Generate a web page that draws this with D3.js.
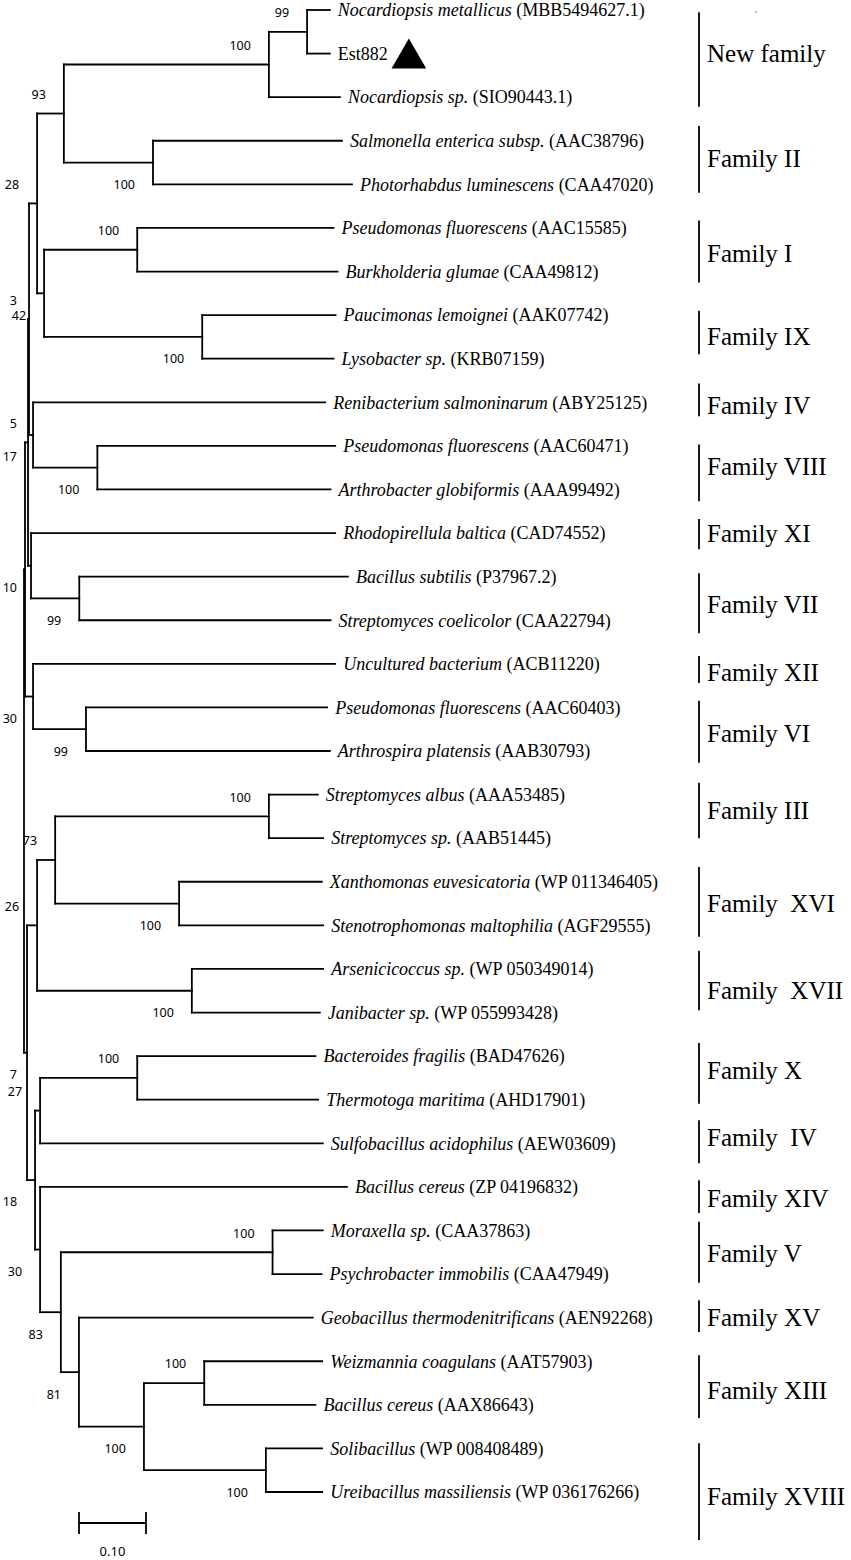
<!DOCTYPE html>
<html>
<head>
<meta charset="utf-8">
<script src="https://cdn.jsdelivr.net/npm/d3@7"></script>
<style>
body { margin: 0; background: #fff; }
</style>
</head>
<body>
<svg id="tree"></svg>
<script>
var w = 851, h = 1560;

// leaves, top to bottom
var tipSpecies = ["Nocardiopsis metallicus", "Est882", "Nocardiopsis sp.", "Salmonella enterica subsp.",
  "Photorhabdus luminescens", "Pseudomonas fluorescens", "Burkholderia glumae", "Paucimonas lemoignei",
  "Lysobacter sp.", "Renibacterium salmoninarum", "Pseudomonas fluorescens", "Arthrobacter globiformis",
  "Rhodopirellula baltica", "Bacillus subtilis", "Streptomyces coelicolor", "Uncultured bacterium",
  "Pseudomonas fluorescens", "Arthrospira platensis", "Streptomyces albus", "Streptomyces sp.",
  "Xanthomonas euvesicatoria", "Stenotrophomonas maltophilia", "Arsenicicoccus sp.", "Janibacter sp.",
  "Bacteroides fragilis", "Thermotoga maritima", "Sulfobacillus acidophilus", "Bacillus cereus",
  "Moraxella sp.", "Psychrobacter immobilis", "Geobacillus thermodenitrificans", "Weizmannia coagulans",
  "Bacillus cereus", "Solibacillus", "Ureibacillus massiliensis"];
var tipAccession = ["(MBB5494627.1)", "", "(SIO90443.1)", "(AAC38796)",
  "(CAA47020)", "(AAC15585)", "(CAA49812)", "(AAK07742)",
  "(KRB07159)", "(ABY25125)", "(AAC60471)", "(AAA99492)",
  "(CAD74552)", "(P37967.2)", "(CAA22794)", "(ACB11220)",
  "(AAC60403)", "(AAB30793)", "(AAA53485)", "(AAB51445)",
  "(WP 011346405)", "(AGF29555)", "(WP 050349014)", "(WP 055993428)",
  "(BAD47626)", "(AHD17901)", "(AEW03609)", "(ZP 04196832)",
  "(CAA37863)", "(CAA47949)", "(AEN92268)", "(AAT57903)",
  "(AAX86643)", "(WP 008408489)", "(WP 036176266)"];

// tree nodes in preorder (t0..t34 are the leaves above)
var nodeIds = ["root","E","D","B","A","n4","n2","n1","t0","t1","t2","n3","t3","t4",
  "n7","n5","t5","t6","n6","t7","t8","C","t9","n8","t10","t11",
  "F","t12","n9","t13","t14","G","t15","n10","t16","t17",
  "H","I","K","n11","t18","t19","n12","t20","t21","n13","t22","t23",
  "M","L","n14","t24","t25","t26","N","t27","O","n15","t28","t29","P","t30","Q","n16","t31","t32","n17","t33","t34"];
var nodeParents = ["","root","E","D","B","A","n4","n2","n1","n1","n2","n4","n3","n3",
  "A","n7","n5","n5","n7","n6","n6","B","C","C","n8","n8",
  "D","F","F","n9","n9","E","G","G","n10","n10",
  "root","H","I","K","n11","n11","K","n12","n12","I","n13","n13",
  "H","M","L","n14","n14","L","M","N","N","O","n15","n15","O","P","P","Q","n16","n16","Q","n17","n17"];
var branchLengths = [0, 0.0015, 0.0045, 0.0015, 0.012, 0.040, 0.306, 0.057, 0.034, 0.034, 0.106, 0.133, 0.282, 0.297,
  0.0105, 0.139, 0.293, 0.299, 0.236, 0.199, 0.196, 0.006, 0.436, 0.096, 0.355, 0.348,
  0.0045, 0.454, 0.072, 0.401, 0.375, 0.012, 0.451, 0.079, 0.360, 0.364,
  0.0045, 0.015, 0.027, 0.319, 0.073, 0.081, 0.185, 0.213, 0.215, 0.231, 0.196, 0.191,
  0.012, 0.0075, 0.145, 0.266, 0.270, 0.422, 0.0075, 0.458, 0.031, 0.316, 0.075, 0.073, 0.027, 0.349, 0.097, 0.090, 0.176, 0.166, 0.182, 0.084, 0.084];
var bootstraps = [null, null, 5, 3, 28, 93, 100, 99, null, null, null, 100, null, null,
  42, 100, null, null, 100, null, null, 17, null, 100, null, null,
  10, null, 99, null, null, 30, null, 99, null, null,
  7, 26, 73, 100, null, null, 100, null, null, 100, null, null,
  18, 27, 100, null, null, null, 30, null, 83, 100, null, null, 81, null, 100, 100, null, null, 100, null, null];

// family brackets, in leaf-row units
var familyNames = ["New family", "Family II", "Family I", "Family IX", "Family IV", "Family VIII", "Family XI",
  "Family VII", "Family XII", "Family VI", "Family III", "Family\u00a0\u00a0XVI", "Family\u00a0\u00a0XVII", "Family X",
  "Family\u00a0\u00a0IV", "Family XIV", "Family V", "Family XV", "Family XIII", "Family XVIII"];
var familyTop = [0.05, 2.66, 4.83, 6.9, 8.57, 9.97, 11.68, 12.92, 14.82, 15.85, 17.73, 19.66, 21.58, 23.7, 25.47, 26.85, 27.8, 29.6, 30.86, 32.88];
var familyBottom = [2.22, 4.19, 6.25, 7.9, 9.32, 11.27, 12.37, 14.3, 15.44, 17.27, 19.0, 21.26, 22.95, 25.09, 26.46, 27.6, 29.2, 30.33, 32.3, 35.1];
var familyLabelAt = [1.0, 3.41, 5.59, 7.49, 9.07, 10.47, 12.0, 13.63, 15.2, 16.6, 18.37, 20.5, 22.5, 24.33, 25.86, 27.26, 28.52, 30.0, 31.66, 34.1];

var scaleBarValue = 0.10;

var svg = d3.select("#tree")
    .attr("width", w)
    .attr("height", h);

var x = d3.scaleLinear().domain([0, 1]).range([24, 694]);
var y = d3.scaleLinear().domain([0, tipSpecies.length - 1]).range([10, 1492]);

var rows = nodeIds.map(function(id, i){
  return {id: id, parent: nodeParents[i], len: branchLengths[i], boot: bootstraps[i]};
});
var root = d3.stratify()
    .id(function(d){return d.id;})
    .parentId(function(d){return d.parent || null;})(rows);

root.eachBefore(function(n){ n.dist = (n.parent ? n.parent.dist : 0) + n.data.len; n.px = x(n.dist); });
root.leaves().forEach(function(n){ n.idx = +n.id.slice(1); n.py = y(n.idx); });
root.eachAfter(function(n){
  if (n.children) n.py = (n.children[0].py + n.children[n.children.length-1].py) / 2;
});

var g = svg.append("g")
    .attr("stroke", "#000")
    .attr("stroke-width", 1.8)
    .attr("stroke-linecap", "square");

// horizontal branches
g.selectAll("line.h")
.data(root.descendants().filter(function(n){return n.parent;}))
.enter()
.append("line")
    .attr("class", "h")
    .attr("x1", function(d){return d.parent.px;})
    .attr("x2", function(d){return d.px;})
    .attr("y1", function(d){return d.py;})
    .attr("y2", function(d){return d.py;});

// vertical connectors
g.selectAll("line.v")
.data(root.descendants().filter(function(n){return n.children;}))
.enter()
.append("line")
    .attr("class", "v")
    .attr("x1", function(d){return d.px;})
    .attr("x2", function(d){return d.px;})
    .attr("y1", function(d){return d.children[0].py;})
    .attr("y2", function(d){return d.children[d.children.length-1].py;});

// bootstrap values
svg.selectAll("text.boot")
.data(root.descendants().filter(function(n){return n.data.boot != null;}))
.enter()
.append("text")
    .attr("class", "boot")
    .attr("x", function(d){return Math.max(d.px - 18, 17);})
    .attr("y", function(d){
      var upper = d.parent.children[0] === d;
      return upper ? d.py - 19 : d.py + 22;
    })
    .attr("dy", "0.35em")
    .attr("text-anchor", "end")
    .attr("font-family", "'Noto Sans', sans-serif")
    .attr("font-size", 12.5)
    .text(function(d){return d.data.boot;});

// leaf labels
var tips = svg.selectAll("text.tip")
.data(root.leaves())
.enter()
.append("text")
    .attr("class", "tip")
    .attr("x", function(d){return d.px + 8;})
    .attr("y", function(d){return d.py;})
    .attr("dy", "0.35em")
    .attr("font-family", "'Liberation Serif', 'Times New Roman', serif")
    .attr("font-size", 18);
tips.append("tspan")
    .attr("font-style", function(d){return tipAccession[d.idx] ? "italic" : "normal";})
    .text(function(d){return tipSpecies[d.idx];});
tips.append("tspan")
    .text(function(d){return tipAccession[d.idx] ? " " + tipAccession[d.idx] : "";});

// marker for the new esterase
var est = tips.filter(function(d){return tipAccession[d.idx] === "";});
var estEnd = +est.attr("x") + est.node().getComputedTextLength();
svg.append("path")
    .attr("d", d3.symbol().type(d3.symbolTriangle).size(520))
    .attr("transform", "translate(" + (estEnd + 21) + "," + (est.datum().py + 5) + ")")
    .attr("fill", "#000");

// family brackets
var fam = svg.selectAll("g.fam")
.data(familyNames)
.enter()
.append("g")
    .attr("class", "fam");
fam.append("line")
    .attr("x1", 699).attr("x2", 699)
    .attr("y1", function(d, i){return y(familyTop[i]);})
    .attr("y2", function(d, i){return y(familyBottom[i]);})
    .attr("stroke", "#000")
    .attr("stroke-width", 1.8);
fam.append("text")
    .attr("x", 707)
    .attr("y", function(d, i){return y(familyLabelAt[i]);})
    .attr("dy", "0.35em")
    .attr("font-family", "'Liberation Serif', 'Times New Roman', serif")
    .attr("font-size", 25)
    .text(function(d){return d;});

svg.append("circle")
    .attr("cx", 756).attr("cy", 12).attr("r", 0.8)
    .attr("fill", "#666");

// scale bar
var barX = 79, barY = 1523, barLen = x(scaleBarValue) - x(0);
var bar = svg.append("g")
    .attr("stroke", "#000")
    .attr("stroke-width", 1.8);
bar.append("line").attr("x1", barX).attr("x2", barX + barLen).attr("y1", barY).attr("y2", barY);
bar.append("line").attr("x1", barX).attr("x2", barX).attr("y1", barY - 11).attr("y2", barY + 11);
bar.append("line").attr("x1", barX + barLen).attr("x2", barX + barLen).attr("y1", barY - 11).attr("y2", barY + 11);
svg.append("text")
    .attr("x", barX + barLen / 2)
    .attr("y", barY + 28)
    .attr("dy", "0.35em")
    .attr("text-anchor", "middle")
    .attr("font-family", "'Noto Sans', sans-serif")
    .attr("font-size", 13)
    .text(scaleBarValue.toFixed(2));
</script>
</body>
</html>
